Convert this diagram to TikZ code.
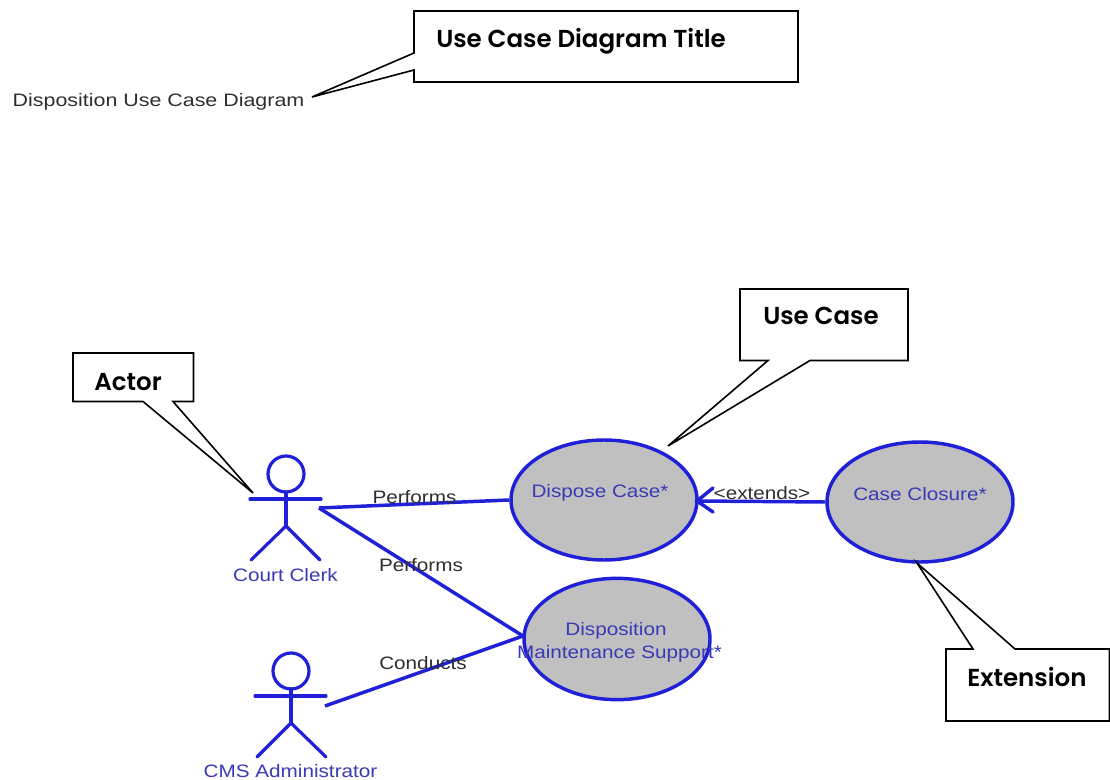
\documentclass[tikz,border=0pt]{standalone}
\usepackage{fontspec}
\setmainfont{Liberation Sans}
\newfontfamily\callfont{Poppins SemiBold}
\newfontfamily\ucfont{Liberation Sans}[FakeStretch=1.15]
\newfontfamily\titlefont{Liberation Sans}[FakeStretch=1.19]
\definecolor{ucblue}{HTML}{2020D8}
\definecolor{uctext}{HTML}{3A3AB4}
\definecolor{ucgrey}{HTML}{C0C0C0}
\definecolor{lblgrey}{HTML}{2E2E2E}
\tikzset{
  x=0.75pt,y=-0.75pt,
  usecase/.style={ellipse,draw=ucblue,fill=ucgrey,line width=2.6pt,inner sep=0pt},
  uline/.style={draw=ucblue,line width=2.6pt},
  stick/.style={draw=ucblue,line width=2.4pt,line cap=round},
  ucname/.style={text=uctext,font=\ucfont\fontsize{13.5}{16}\selectfont,inner sep=0pt,anchor=base},
  edgelabel/.style={text=lblgrey,font=\ucfont\fontsize{13.5}{16}\selectfont,inner sep=0pt,anchor=base},
  callout/.style={draw=black,fill=white,line width=1.2pt,line join=miter},
  calltext/.style={text=black,font=\callfont\fontsize{18.4}{22}\selectfont,inner sep=0pt,anchor=base west},
}
\usetikzlibrary{shapes.geometric}
\begin{document}
\begin{tikzpicture}
\useasboundingbox (0,0) rectangle (1110,780);
\fill[white] (0,0) rectangle (1110,780);

% use cases
\node[usecase,minimum width=139.5pt,minimum height=90pt] (dispose) at (604,500) {};
\node[usecase,minimum width=139.5pt,minimum height=90pt] (closure) at (920,502) {};
\node[usecase,minimum width=139.5pt,minimum height=91pt] (maint) at (617,639) {};

% actors
\coordinate (c1head) at (286,474);
\coordinate (c1lhand) at (250,499);
\coordinate (c1rhand) at (321,499);
\coordinate (c1neck) at (286,492);
\coordinate (c1hip) at (286,526);
\coordinate (c1lfoot) at (251,560);
\coordinate (c1rfoot) at (320,560);
\coordinate (c1conn) at (319,508);
\draw[stick] (c1head) circle[radius=13.5pt];
\draw[stick] (c1lhand) -- (c1rhand);
\draw[stick] (c1neck) -- (c1hip);
\draw[stick] (c1lfoot) -- (c1hip) -- (c1rfoot);

\coordinate (c2head) at (291,671);
\coordinate (c2lhand) at (255,696);
\coordinate (c2rhand) at (326,696);
\coordinate (c2neck) at (291,689);
\coordinate (c2hip) at (291,723);
\coordinate (c2lfoot) at (257,757);
\coordinate (c2rfoot) at (326,757);
\coordinate (c2conn) at (325,706);
\draw[stick] (c2head) circle[radius=13.5pt];
\draw[stick] (c2lhand) -- (c2rhand);
\draw[stick] (c2neck) -- (c2hip);
\draw[stick] (c2lfoot) -- (c2hip) -- (c2rfoot);

% connectors
\coordinate (mjoin) at (523,636);
\draw[uline] (c1conn) -- (dispose.west);
\draw[uline] (c1conn) -- (mjoin);
\draw[uline] (c2conn) -- (mjoin);
\coordinate (atip) at (697,501);
\coordinate (abarb1) at (713,488);
\coordinate (abarb2) at (713,512);
\draw[uline] (closure.west) -- (atip);
\draw[uline,line cap=round] (abarb1) -- (atip) -- (abarb2);

% text
\node[ucname] (t1) at (600,497.5) {Dispose Case*};
\node[ucname] (t2) at (920,500) {Case Closure*};
\node[ucname] (t3) at (616,635.5) {Disposition};
\node[ucname] (t4) at (619.5,658.5) {Maintenance Support*};
\node[ucname] (t5) at (285.5,581) {Court Clerk};
\node[ucname] (t6) at (290.5,777.5) {CMS Administrator};
\node[edgelabel] (l1) at (414.5,503) {Performs};
\node[edgelabel] (l2) at (421,571) {Performs};
\node[edgelabel] (l3) at (423,669) {Conducts};
\node[edgelabel] (l4) at (762,499) {<extends>};
\node[edgelabel,font=\titlefont\fontsize{13.5}{16}\selectfont] (title) at (158.5,107) {Disposition Use Case Diagram};

% callouts
\draw[callout] (414,11) -- (798,11) -- (798,82) -- (414,82) -- (414,70) -- (312,97) -- (414,53) -- cycle;
\node[calltext] (k1) at (436,48) {Use Case Diagram Title};
\draw[callout] (740,289) -- (908,289) -- (908,360.5) -- (810,360.5) -- (668,446) -- (768,360.5) -- (740,360.5) -- cycle;
\node[calltext] (k2) at (763,325) {Use Case};
\draw[callout] (73,353) -- (193.5,353) -- (193.5,401.5) -- (173,401.5) -- (253,493) -- (143,401.5) -- (73,401.5) -- cycle;
\node[calltext] (k3) at (94,391) {Actor};
\draw[callout] (946,649) -- (973,649) -- (917,563) -- (1015,649) -- (1109.5,649) -- (1109.5,721) -- (946,721) -- cycle;
\node[calltext] (k4) at (967,686) {Extension};
\end{tikzpicture}
\end{document}
